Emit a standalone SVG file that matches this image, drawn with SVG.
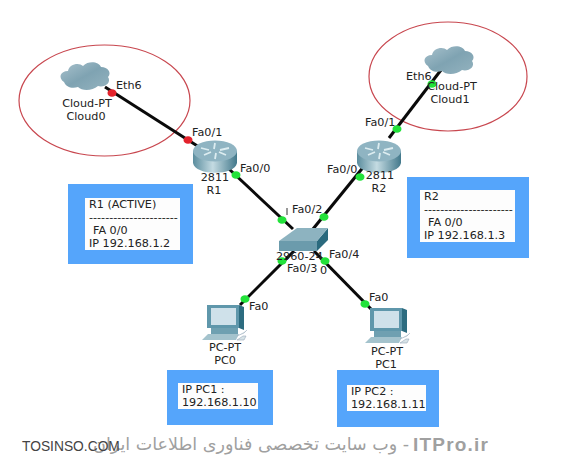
<svg xmlns="http://www.w3.org/2000/svg" width="574" height="467" viewBox="0 0 574 467">
<style>
text{font-family:"DejaVu Sans","Liberation Sans",sans-serif;font-size:11.2px;fill:#222}
.c{text-anchor:middle}
.ring{fill:none;stroke:#c8474f;stroke-width:1.2}
.link{stroke:#0a0a0a;stroke-width:3;fill:none}
.g{fill:#22e23a}.r{fill:#e3222c}
.blue{fill:#55a5fb}.in{fill:#fdfdfd}
.wm{fill:#a0a0a0}
</style>
<defs>
<linearGradient id="cl" x1="0" y1="0" x2="1" y2="1"><stop offset="0" stop-color="#a9c2cd"/><stop offset="0.5" stop-color="#7fa3b2"/><stop offset="1" stop-color="#94b3bf"/></linearGradient>
<linearGradient id="rt" x1="0" y1="0" x2="1" y2="0"><stop offset="0" stop-color="#5b8d9e"/><stop offset="0.45" stop-color="#c4dbe2"/><stop offset="1" stop-color="#42788b"/></linearGradient>
<g id="cloud"><path d="M3 22C-3 18-1 11 7 11C8 4 18 2 22 6C28 0 38 2 40 7C47 7 51 13 47 17C51 23 43 28 37 26C31 31 21 31 17 27C11 29 5 27 3 22Z" fill="url(#cl)"/></g>
<g id="router"><path d="M0 11V23C2 36 42 36 44 23V11Z" fill="url(#rt)"/><ellipse cx="22" cy="11" rx="22" ry="10.500" fill="#8fb4c2"/><path d="M8 8L16 10M11 15L18 12M36 8L27 10M33 15L26 12M22 3L21 9M22 19L23 13" stroke="#dcecf0" stroke-width="1.800"/></g>
<g id="pc"><path d="M5 1H37V24H5Z" fill="#5f97ab"/><path d="M37 1L42 3V26L37 24Z" fill="#2d6c80"/><rect x="9" y="4" width="25" height="17" fill="#cfe1ea"/><path d="M9 24H36V30H9Z" fill="#6fa0b1"/><path d="M6 30H37L34 36H0Z" fill="#a4c3cd"/><path d="M35 32L42 29L45 26M35 36L41 32H44L42 36Z" fill="#d7e3e7" stroke="#9ab" stroke-width="0.600"/></g>
</defs>
<rect width="574" height="467" fill="#fff"/>
<ellipse class="ring" cx="104.500" cy="100.500" rx="85.500" ry="55.500"/>
<ellipse class="ring" cx="448" cy="76.500" rx="79" ry="54.500"/>
<g id="connectors">
<path class="link" d="M105 87L199 147"/>
<path class="link" d="M389 138L441 70"/>
<path class="link" d="M229 169L293 229"/>
<path class="link" d="M365 165L313 229"/>
<path class="link" d="M294 251L240 305"/>
<path class="link" d="M314 251L371 309"/>
<ellipse class="r" cx="112" cy="93" rx="4.500" ry="3.800"/>
<ellipse class="r" cx="188" cy="140" rx="4.500" ry="3.800"/>
<ellipse class="g" cx="236" cy="175" rx="4.500" ry="3.800"/>
<ellipse class="g" cx="282" cy="220" rx="4.500" ry="3.800"/>
<ellipse class="g" cx="432" cy="84" rx="4.500" ry="3.800"/>
<ellipse class="g" cx="397" cy="129" rx="4.500" ry="3.800"/>
<ellipse class="g" cx="360" cy="177" rx="4.500" ry="3.800"/>
<ellipse class="g" cx="324" cy="217" rx="4.500" ry="3.800"/>
<ellipse class="g" cx="282" cy="261" rx="4.500" ry="3.800"/>
<ellipse class="g" cx="245" cy="299" rx="4.500" ry="3.800"/>
<ellipse class="g" cx="325" cy="261" rx="4.500" ry="3.800"/>
<ellipse class="g" cx="365" cy="304" rx="4.500" ry="3.800"/>
</g>
<g id="Cloud0"><use href="#cloud" x="61" y="60"/><text class="c" x="87" y="107">Cloud-PT</text><text class="c" x="86" y="120">Cloud0</text><text x="116" y="89">Eth6</text></g>
<g id="Cloud1"><use href="#cloud" x="425" y="44"/><text class="c" x="452" y="90">Cloud-PT</text><text class="c" x="450" y="103">Cloud1</text><text x="406" y="80">Eth6</text></g>
<g id="R1"><use href="#router" x="193" y="140"/><text class="c" x="215" y="181">2811</text><text class="c" x="214" y="194">R1</text><text x="192" y="136">Fa0/1</text><text x="240" y="172">Fa0/0</text></g>
<g id="R2"><use href="#router" x="357" y="140"/><text class="c" x="380" y="179">2811</text><text class="c" x="379" y="192">R2</text><text x="365" y="126">Fa0/1</text><text x="327" y="173">Fa0/0</text></g>
<g id="SW"><path d="M279 241H317V251H279Z" fill="#6b9bac"/><path d="M317 241L328 228V240L317 251Z" fill="#2a6a7e"/><path d="M279 241L297 228H328L317 241Z" fill="#8db3c0"/>
<path d="M287 208V215" stroke="#333" stroke-width="1" fill="none"/>
<text x="276" y="260">2960-24</text><text x="287" y="271.500">Fa0/3</text><text x="320" y="274">0</text><text x="292" y="213">Fa0/2</text><text x="329" y="258">Fa0/4</text></g>
<g id="PC0"><use href="#pc" x="202" y="304"/><text class="c" x="225" y="351">PC-PT</text><text class="c" x="225" y="364">PC0</text><text x="249" y="310">Fa0</text></g>
<g id="PC1"><use href="#pc" x="365" y="307"/><text class="c" x="387" y="355">PC-PT</text><text class="c" x="386" y="368">PC1</text><text x="369" y="301">Fa0</text></g>
<g id="note-R1"><rect class="blue" x="68" y="184" width="125" height="80"/><rect class="in" x="85" y="198" width="95" height="52"/><text x="89" y="208">R1 (ACTIVE)</text><text x="89" y="221">----------------------</text><text x="93" y="234">FA 0/0</text><text x="89" y="247">IP 192.168.1.2</text></g>
<g id="note-R2"><rect class="blue" x="407" y="177" width="122" height="81"/><rect class="in" x="420" y="190" width="95" height="52"/><text x="424" y="200">R2</text><text x="424" y="213">----------------------</text><text x="428" y="226">FA 0/0</text><text x="424" y="239">IP 192.168.1.3</text></g>
<g id="note-PC0"><rect class="blue" x="167" y="370" width="106" height="55"/><rect class="in" x="178" y="383" width="80" height="26"/><text x="182" y="393">IP PC1 :</text><text x="182" y="406">192.168.1.10</text></g>
<g id="note-PC1"><rect class="blue" x="337" y="370" width="102" height="57"/><rect class="in" x="347" y="385" width="79" height="26"/><text x="351" y="395">IP PC2 :</text><text x="351" y="408">192.168.1.11</text></g>
<g id="watermark">
<text class="wm" x="409" y="450" direction="rtl" style="font-size:17.500px">- وب سایت تخصصی فناوری اطلاعات ایران</text>
<text class="wm" x="413" y="451" style="font-family:'Liberation Sans',sans-serif;font-size:19px;font-weight:bold;letter-spacing:1.2px">ITPro.ir</text>
<text x="22" y="451" style="font-family:'Liberation Sans',sans-serif;font-size:13.800px;fill:#444">TOSINSO.COM</text>
</g>
</svg>
